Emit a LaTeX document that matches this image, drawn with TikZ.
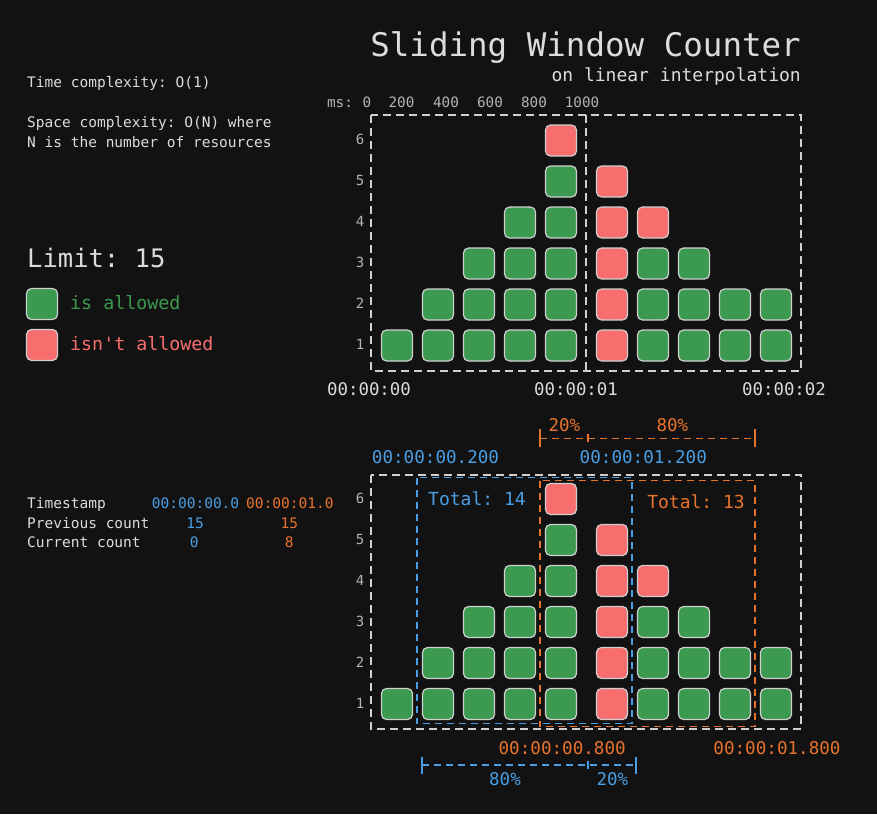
\documentclass[tikz,border=0pt]{standalone}
\usepackage{fontspec}
\setmonofont{DejaVu Sans Mono}
\renewcommand{\familydefault}{\ttdefault}
\usepackage{tikz}
\usetikzlibrary{calc,backgrounds}
\definecolor{bgdark}{HTML}{121212}
\definecolor{txtlight}{HTML}{DCDCDC}
\definecolor{txtgray}{HTML}{B4B4B4}
\definecolor{okgreen}{HTML}{3B9A4F}
\definecolor{nored}{HTML}{F86D6D}
\definecolor{winblue}{HTML}{4A9EE3}
\definecolor{winorange}{HTML}{E8732C}
\definecolor{boxline}{HTML}{D0D0D0}
\tikzset{
    fsize/.code={\ttfamily\fontsize{#1}{#1}\selectfont},
    req/.style={minimum size=31pt, inner sep=0pt, rounded corners=5pt,
                draw=boxline, line width=1.2pt},
    okreq/.style={req, fill=okgreen},
    noreq/.style={req, fill=nored},
    rowlabel/.style={anchor=base, inner sep=0pt, text=txtgray, fsize=14},
    plain/.style={anchor=base west, inner sep=0pt, text=txtlight, fsize=14.5},
    frame/.style={draw=boxline, line width=1.5pt, dash pattern=on 8pt off 5pt},
    bracket/.style={line width=1.6pt, dash pattern=on 7pt off 5pt}
}
% one grid of requests: #1 name prefix, #2 y of the bottom row
\newcommand\requestgrid[2]{
    \foreach \col/\xx/\tot/\ok in {1/397/1/1, 2/438/2/2, 3/479/3/3, 4/520/4/4,
                                  5/561/6/5, 6/612/5/0, 7/653/4/3, 8/694/3/3,
                                  9/735/2/2, 10/776/2/2} {
        \foreach \r in {1,...,6} {
            \ifnum\r>\tot\else
                \ifnum\r>\ok
                    \node[noreq] (#1\col-\r) at (\xx,{#2-(\r-1)*41}) {};
                \else
                    \node[okreq] (#1\col-\r) at (\xx,{#2-(\r-1)*41}) {};
                \fi
            \fi
        }
    }
    \foreach \r in {1,...,6}
        \node[rowlabel] (#1row\r) at (360,{#2+4-(\r-1)*41}) {\r};
}

\begin{document}
\begin{tikzpicture}[x=1pt,y=-1pt]
\fill[bgdark] (0,0) rectangle (877,814);
\useasboundingbox (0,0) rectangle (877,814);

% heading
\node[anchor=base east, inner sep=0pt, text=txtlight, fsize=32.5] (title) at (801,56.5) {Sliding Window Counter};
\node[anchor=base east, inner sep=0pt, text=txtlight, fsize=18] (subtitle) at (801,81) {on linear interpolation};

% left column
\node[plain] (timec) at (27,87.3) {Time complexity: O(1)};
\node[plain] (spacec) at (27,127.3) {Space complexity: O(N) where};
\node[plain] (spacen) at (27,147.3) {N is the number of resources};
\node[plain, fsize=25.5] (limit) at (27,267.7) {Limit: 15};
\node[okreq] (legok) at (42,304) {};
\node[noreq] (legno) at (42,345) {};
\node[plain, fsize=18.3, text=okgreen] (legoktxt) at (70,309) {is allowed};
\node[plain, fsize=18.3, text=nored] (legnotxt) at (70,350) {isn't allowed};

\node[plain] (tsname) at (27,508.3) {Timestamp};
\node[plain] (prevname) at (27,528.3) {Previous count};
\node[plain] (curname) at (27,547.7) {Current count};
\node[plain, text=winblue] (tsblue) at (151.7,508.3) {00:00:00.0};
\node[plain, text=winorange] (tsorange) at (246,508.3) {00:00:01.0};
\node[plain, anchor=base, text=winblue] (prevblue) at (195,528.3) {15};
\node[plain, anchor=base, text=winorange] (prevorange) at (289.3,528.3) {15};
\node[plain, anchor=base, text=winblue] (curblue) at (194.3,547.7) {0};
\node[plain, anchor=base, text=winorange] (curorange) at (289.3,547.7) {8};

% top chart
\begin{scope}[every node/.style={anchor=base, inner sep=0pt, text=txtgray, fsize=14.3}]
    \node (msname) at (340,107) {ms:};
    \node (ms0) at (367,107) {0};
    \node (ms200) at (401.5,107) {200};
    \node (ms400) at (446,107) {400};
    \node (ms600) at (490,107) {600};
    \node (ms800) at (534,107) {800};
    \node (ms1000) at (582,107) {1000};
\end{scope}
\draw[frame] (371,115) rectangle (801,371);
\draw[frame] (586,115) -- (586,371);
\requestgrid{t}{345.5}
\begin{scope}[every node/.style={anchor=base, inner sep=0pt, text=txtlight, fsize=17.4}]
    \node (sec0) at (369,395) {00:00:00};
    \node (sec1) at (576,395) {00:00:01};
    \node (sec2) at (784,395) {00:00:02};
\end{scope}

% orange window bracket
\draw[bracket, draw=winorange] (540,438.3) -- (755,438.3);
\draw[winorange, line width=1.6pt] (540,429) -- (540,447) (588,434) -- (588,442) (755,429) -- (755,447);
\node[anchor=base, inner sep=0pt, text=winorange, fsize=17.5] (pcto20) at (564.3,431) {20\%};
\node[anchor=base, inner sep=0pt, text=winorange, fsize=17.5] (pcto80) at (672.3,431) {80\%};
\node[anchor=base, inner sep=0pt, text=winblue, fsize=17.6] (blstart) at (435.5,463.3) {00:00:00.200};
\node[anchor=base, inner sep=0pt, text=winblue, fsize=17.6] (blend) at (643.3,463.3) {00:00:01.200};

% bottom chart
\draw[frame] (371,475) rectangle (801,729);
\draw[bracket, draw=winblue] (417,477.5) rectangle (632,723.5);
\draw[bracket, draw=winorange] (540,480.5) rectangle (755,726.5);
\requestgrid{b}{704}
\node[anchor=base west, inner sep=0pt, text=winblue, fsize=18] (totblue) at (428,505.7) {Total: 14};
\node[anchor=base east, inner sep=0pt, text=winorange, fsize=18] (totorange) at (745,508.3) {Total: 13};
\node[anchor=base, inner sep=0pt, text=winorange, fsize=17.6] (orstart) at (562.2,754) {00:00:00.800};
\node[anchor=base, inner sep=0pt, text=winorange, fsize=17.6] (orend) at (777,754) {00:00:01.800};

% blue window bracket
\draw[bracket, draw=winblue] (421.7,765) -- (635.7,765);
\draw[winblue, line width=1.6pt] (421.7,757) -- (421.7,774) (587.7,761) -- (587.7,769) (635.7,757) -- (635.7,774);
\node[anchor=base, inner sep=0pt, text=winblue, fsize=17.5] (pctb80) at (505,785) {80\%};
\node[anchor=base, inner sep=0pt, text=winblue, fsize=17.5] (pctb20) at (612.3,785) {20\%};
\end{tikzpicture}
\end{document}
